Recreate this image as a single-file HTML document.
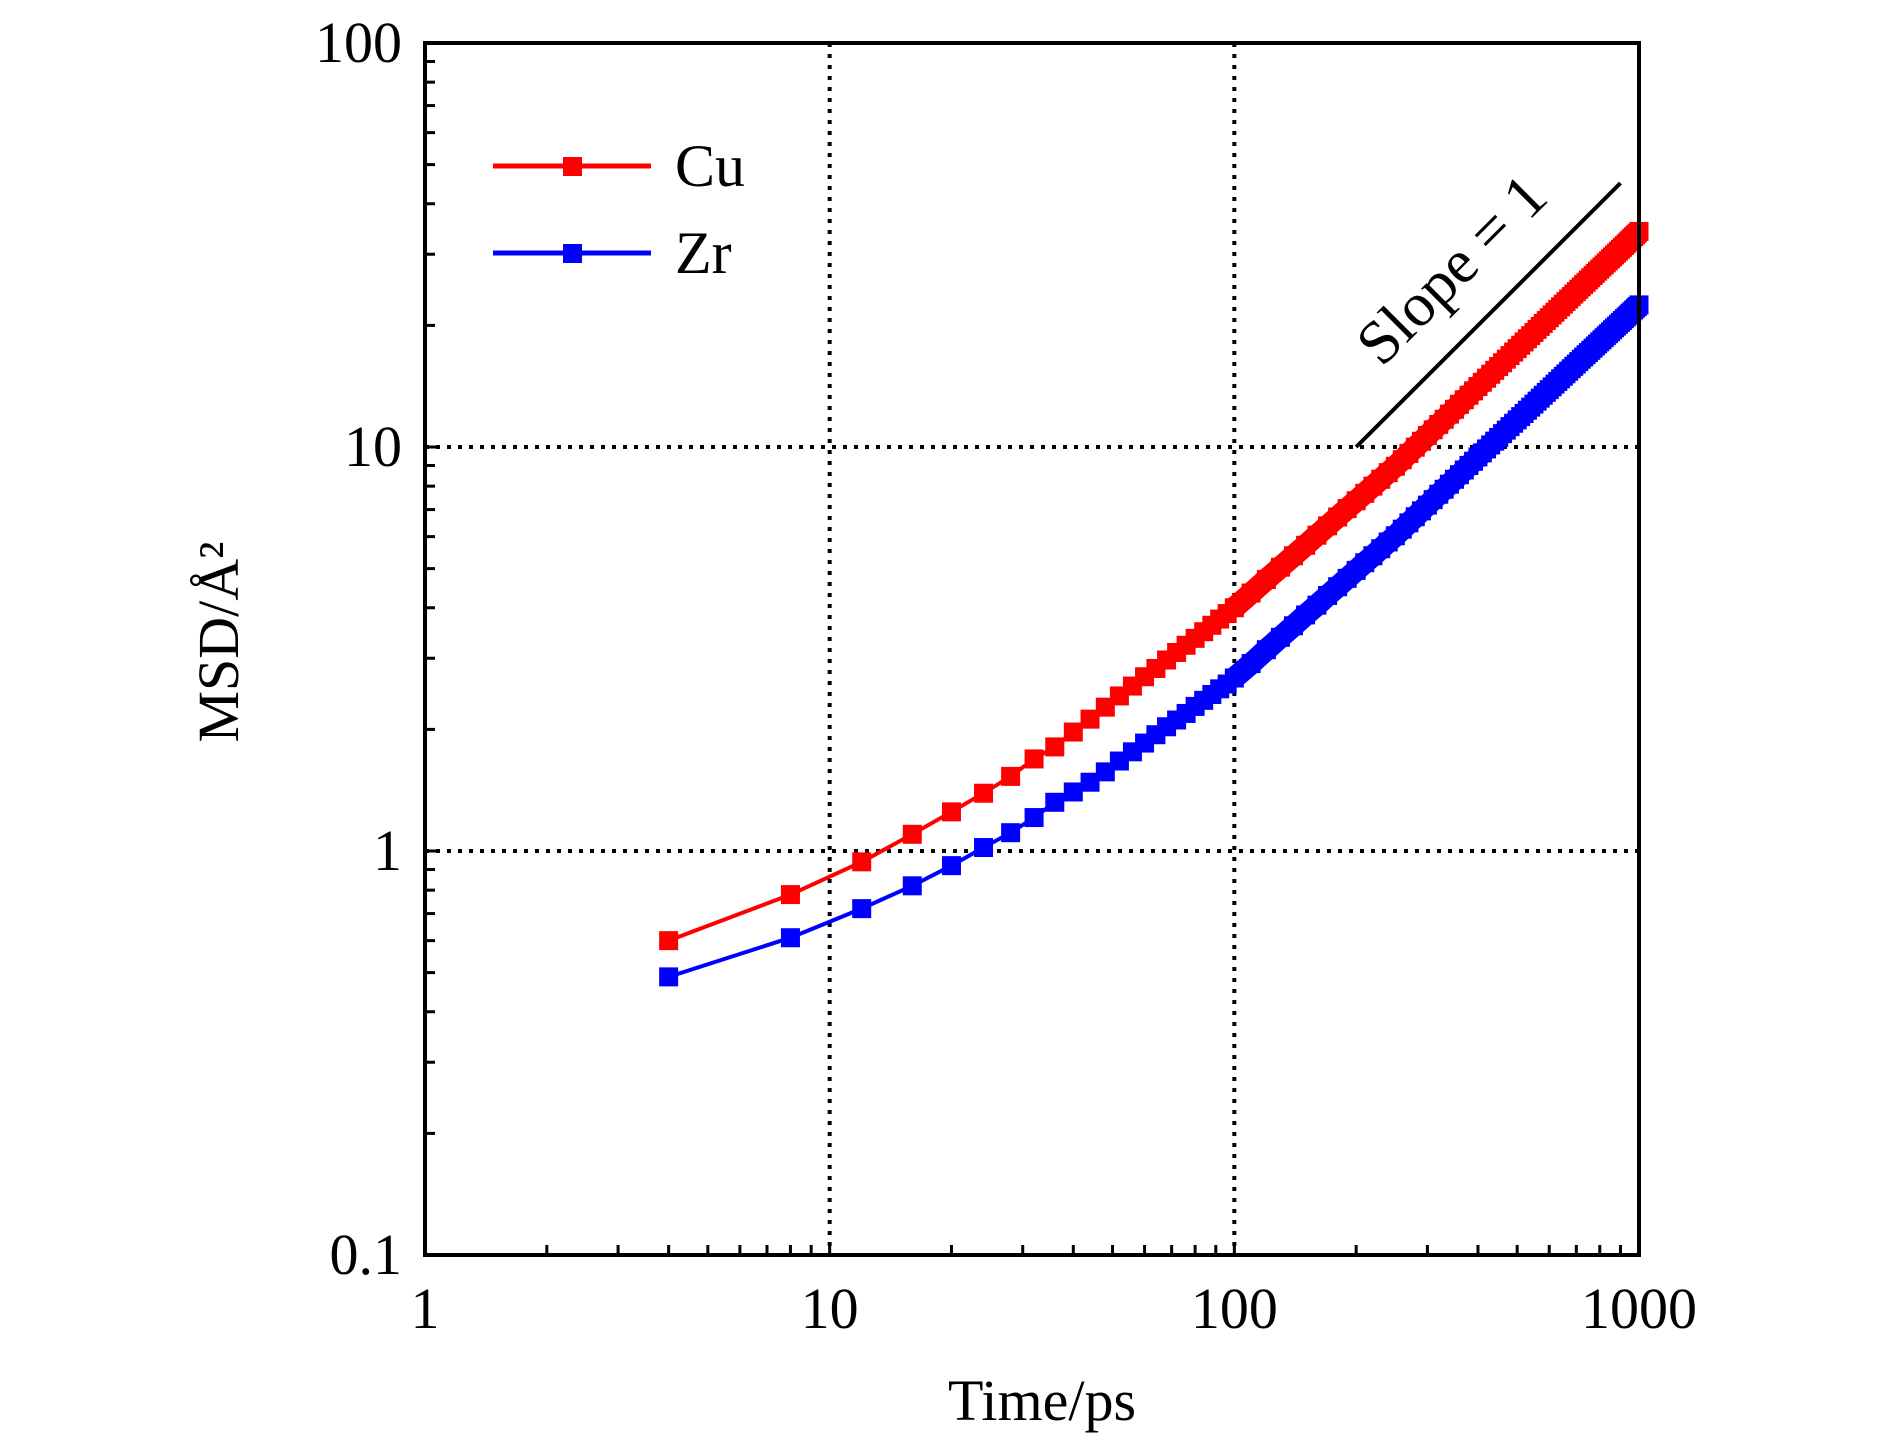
<!DOCTYPE html>
<html><head><meta charset="utf-8"><style>
html,body{margin:0;padding:0;background:#fff;}
svg{display:block;}
text{font-family:"Liberation Serif",serif;fill:#000;}
</style></head><body>
<svg id="chart" width="1890" height="1441" viewBox="0 0 1890 1441" xmlns="http://www.w3.org/2000/svg">
<rect x="0" y="0" width="1890" height="1441" fill="#fff"/>
<g id="grid"></g>
<g id="series"></g>
<g id="axes"></g>
<g>
  <line x1="493" y1="166" x2="651" y2="166" stroke="#ff0000" stroke-width="5"/>
  <rect x="563" y="157" width="19" height="19" fill="#ff0000"/>
  <text x="675" y="186" font-size="60">Cu</text>
  <line x1="493" y1="253" x2="651" y2="253" stroke="#0000ff" stroke-width="5"/>
  <rect x="563" y="244" width="19" height="19" fill="#0000ff"/>
  <text x="675" y="273" font-size="60">Zr</text>
</g>
<text transform="translate(238,642) rotate(-90)" text-anchor="middle" font-size="58">MSD/Å²</text>
<text x="1042" y="1420" text-anchor="middle" font-size="58">Time/ps</text>
</svg>
<script>
const times = [4,8,12,16,20,24,28,32,36,40,44,48,52,56,60,64,68,72,76,80,84,88,92,96,100,
110,120,130,140,150,160,170,180,190,200,210,220,230,240,250,260,270,280,290,300,
310,320,330,340,350,360,370,380,390,400,410,420,430,440,450,460,470,480,490,500,
510,520,530,540,550,560,570,580,590,600,610,620,630,640,650,660,670,680,690,700,
710,720,730,740,750,760,770,780,790,800,810,820,830,840,850,860,870,880,890,900,
910,920,930,940,950,960,970,980,990,1000];
const cuValues = [0.60,0.78,0.94,1.10,1.25,1.39,1.53,1.69,1.81,1.97,2.12,2.27,2.42,2.56,2.70,2.83,2.97,3.10,3.23,3.36,3.49,3.62,3.75,3.87,4.00,
4.35,4.70,5.04,5.38,5.71,6.05,6.38,6.71,7.04,7.36,7.68,8.00,8.32,8.64,8.96,9.30,9.64,9.99,10.33,10.68,
11.03,11.37,11.71,12.06,12.40,12.75,13.09,13.43,13.77,14.12,14.46,14.80,15.14,15.48,15.82,16.16,16.50,16.84,17.18,17.52,
17.86,18.20,18.53,18.87,19.21,19.55,19.88,20.22,20.56,20.89,21.23,21.56,21.90,22.23,22.57,22.90,23.24,23.57,23.91,24.24,
24.57,24.91,25.24,25.57,25.91,26.24,26.57,26.90,27.24,27.57,27.90,28.23,28.56,28.89,29.22,29.55,29.88,30.21,30.54,30.87,
31.20,31.53,31.86,32.19,32.52,32.85,33.18,33.51,33.84,34.17];
const zrValues = [0.488,0.61,0.72,0.82,0.92,1.02,1.11,1.21,1.32,1.40,1.48,1.57,1.67,1.76,1.85,1.94,2.03,2.11,2.19,2.28,2.36,2.44,2.52,2.59,2.68,
2.91,3.15,3.38,3.61,3.84,4.06,4.29,4.51,4.73,4.95,5.17,5.38,5.60,5.82,6.03,6.26,6.49,6.72,6.95,7.18,
7.41,7.64,7.86,8.09,8.32,8.54,8.77,9.00,9.22,9.45,9.67,9.89,10.12,10.34,10.56,10.79,11.01,11.23,11.45,11.67,
11.89,12.11,12.33,12.55,12.77,12.99,13.21,13.43,13.65,13.87,14.09,14.31,14.53,14.75,14.97,15.18,15.40,15.62,15.84,16.05,
16.27,16.49,16.70,16.92,17.13,17.35,17.56,17.78,17.99,18.21,18.42,18.64,18.85,19.07,19.28,19.50,19.71,19.92,20.14,20.35,
20.56,20.78,20.99,21.20,21.42,21.63,21.84,22.06,22.27,22.48];
const xTickValues = [1,10,100,1000];
const xTickLabels = ["1","10","100","1000"];
const yTickValues = [0.1,1,10,100];
const yTickLabels = ["0.1","1","10","100"];
const gridX = [10,100];
const gridY = [1,10];
const slopeX = [200,900];
const slopeY = [10,45];

const L=425,R=1639,T=43,B=1255;
const NS="http://www.w3.org/2000/svg";
function xs(t){return L+Math.log10(t)/3*(R-L);}
function ys(v){return B-(Math.log10(v)+1)/3*(B-T);}
function mk(tag,attrs,parent){const e=document.createElementNS(NS,tag);for(const k in attrs)e.setAttribute(k,attrs[k]);parent.appendChild(e);return e;}

const grid=document.getElementById('grid');
gridX.forEach(v=>{
  const l=mk('line',{x1:xs(v),x2:xs(v),y1:T,y2:B,stroke:'#000','stroke-width':4,'stroke-dasharray':'4 7'},grid);
  
  
});
gridY.forEach(v=>{
  const l=mk('line',{x1:L,x2:R,y1:ys(v),y2:ys(v),stroke:'#000','stroke-width':4,'stroke-dasharray':'4 7'},grid);
  
  
});

const ser=document.getElementById('series');
function drawSeries(vals,color,name){
  const pts=times.map((t,i)=>xs(t).toFixed(1)+','+ys(vals[i]).toFixed(1)).join(' ');
  const pl=mk('polyline',{points:pts,fill:'none',stroke:color,'stroke-width':4},ser);
  
  
  const densePts=times.map((t,i)=>[t,i]).filter(p=>p[0]>=100).map(p=>xs(p[0]).toFixed(1)+','+ys(vals[p[1]]).toFixed(1)).join(' ');
  const band=mk('polyline',{points:densePts,fill:'none',stroke:color,'stroke-width':22},ser);
  
  
  times.forEach((t,i)=>{
    const r=mk('rect',{x:xs(t)-9.5,y:ys(vals[i])-9.5,width:19,height:19,fill:color},ser);
    
    
  });
}
drawSeries(cuValues,'#ff0000','cu');
drawSeries(zrValues,'#0000ff','zr');

const sl=mk('line',{x1:xs(slopeX[0]),y1:ys(slopeY[0]),x2:xs(slopeX[1]),y2:ys(slopeY[1]),stroke:'#000','stroke-width':4},ser);


const ang=Math.atan2(ys(slopeY[1])-ys(slopeY[0]),xs(slopeX[1])-xs(slopeX[0]))*180/Math.PI;
const st=mk('text',{transform:'translate(1466,284) rotate('+ang.toFixed(1)+')','text-anchor':'middle','font-size':62},ser);
st.textContent='Slope = 1';



const ax=document.getElementById('axes');
const frame=mk('rect',{x:L,y:T,width:R-L,height:B-T,fill:'none',stroke:'#000','stroke-width':4},ax);


for(let d=0;d<3;d++){
  for(let m=1;m<=9;m++){
    const t=Math.pow(10,d)*m; if(m===1&&d===0)continue;
    const len=m===1?13:10;
    const tk=mk('line',{x1:xs(t),x2:xs(t),y1:B,y2:B-len,stroke:'#000','stroke-width':3},ax);
    
    
    const v=Math.pow(10,d-1)*m;
    const ty=mk('line',{x1:L,x2:L+len,y1:ys(v),y2:ys(v),stroke:'#000','stroke-width':3},ax);
    
    
  }
}
xTickValues.forEach((v,i)=>{
  const t=mk('text',{x:xs(v),y:1328,'text-anchor':'middle','font-size':58},ax);
  t.textContent=xTickLabels[i];
  
  
});
yTickValues.forEach((v,i)=>{
  const t=mk('text',{x:402,y:ys(v)+19,'text-anchor':'end','font-size':58},ax);
  t.textContent=yTickLabels[i];
  
  
});
</script>
</body></html>
